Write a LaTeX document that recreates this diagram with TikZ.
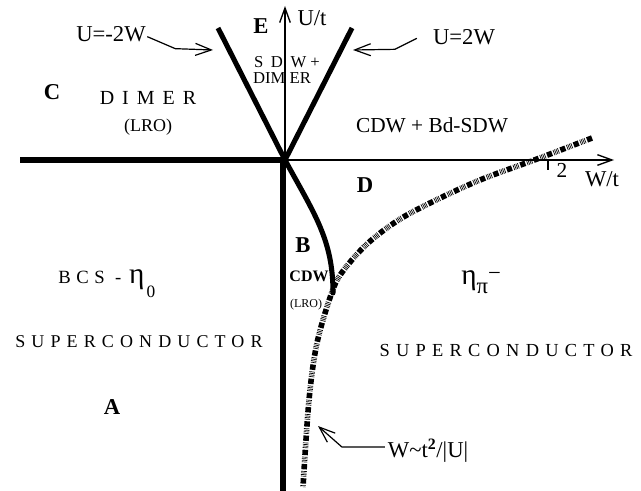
\documentclass[tikz,border=0pt]{standalone}
\usepackage{fontspec}
\setmainfont{Liberation Serif}
\usetikzlibrary{arrows.meta}
\newcommand{\spaced}[2]{{\addfontfeature{LetterSpace=#1}#2}}

\begin{document}
\begin{tikzpicture}[
      x=0.75pt, y=-0.75pt,
      lbl/.style={inner sep=0pt, font=\fontsize{16}{18}\selectfont},
      big/.style={lbl, font=\fontsize{17}{19}\selectfont},
      reg/.style={lbl, font=\fontsize{17}{19}\selectfont\bfseries},
      small/.style={lbl, font=\fontsize{12.5}{13}\selectfont},
      bound/.style={line width=3.8pt},
      axis/.style={line width=1pt, -{Straight Barb[length=11pt,width=8pt]}},
      ptr/.style={line width=0.9pt, -{Straight Barb[length=12pt,width=9pt]}},
      cross/.style={line width=4.2pt, dash pattern=on 4pt off 1.3pt on 0.5pt off 0.7pt
                    on 0.5pt off 0.7pt on 0.5pt off 0.7pt on 0.5pt off 1.3pt}
    ]
    \path[use as bounding box] (0,0) rectangle (641,491);
    \coordinate (O) at (285,160);

    % axes
    \draw[axis] (O) -- (285,6);
    \draw[axis] (O) -- (614,160);
    \draw[line width=0.8pt] (548,161) -- (548,170);
    \node[big] (uaxis) at (312,18) {U/t};
    \node[big] (waxis) at (602,179) {W/t};
    \node[lbl] (two) at (562,170) {2};

    % phase boundaries
    \draw[bound] (20,160) -- (O);
    \draw[bound, line width=4.5pt] (283,160) -- (283,491);
    \draw[bound] (O) -- (218,28);
    \draw[bound] (O) -- (352,28);
    \draw[bound, line cap=round] (O) .. controls (315,215) and (333,240) .. (333,293);
    \draw[cross] plot[smooth, tension=0.55] coordinates {(592,138) (537,159) (480,180)
      (430,203) (397,221) (367,244) (343,271) (332,292) (317,343) (309,400) (303,487)};

    % regions
    \node[reg] (regA) at (112,407) {A};
    \node[reg] (regB) at (303,245) {B};
    \node[reg] (regC) at (52,92) {C};
    \node[reg] (regD) at (365,185) {D};
    \node[reg] (regE) at (261,26) {E};

    \node[lbl, font=\fontsize{15}{17}\selectfont] (dimer) at (148,98) {\spaced{40}{DIMER}};
    \node[lbl, font=\fontsize{13.5}{15}\selectfont] (lroC) at (148,127) {(LRO)};
    \node[small] (sdw) at (287,62) {\spaced{20}{S D W} +};
    \node[small] (dim) at (282,78) {DIM ER};
    \node[lbl] (cdwbd) at (432,125) {CDW + Bd-SDW};
    \node[lbl, font=\fontsize{12}{13}\selectfont\bfseries] (cdwB) at (309,276) {CDW};
    \node[lbl, font=\fontsize{9}{10}\selectfont] (lroB) at (306,305) {(LRO)};

    \node[lbl, font=\fontsize{14}{16}\selectfont, anchor=base west] (bcs) at (58,283)
      {\spaced{30}{BCS -}\hspace{6pt}{\fontsize{22}{22}\selectfont η}\hspace{1.5pt}\raisebox{-1.7ex}{\fontsize{13}{13}\selectfont 0}};
    \node[lbl, font=\fontsize{13.5}{15}\selectfont] (scA) at (139,342) {\spaced{34}{SUPERCONDUCTOR}};
    \node[lbl, font=\fontsize{22}{22}\selectfont, anchor=base west] (etapi) at (461,284)
      {η\raisebox{-0.7ex}{\fontsize{17}{17}\selectfont π}\raisebox{0.25ex}{\fontsize{17}{17}\selectfont −}};
    \node[lbl, font=\fontsize{13.8}{15}\selectfont] (scB) at (506,350) {\spaced{34}{SUPERCONDUCTOR}};

    % boundary labels
    \node[big] (uminus) at (111,34) {U=-2W};
    \node[big] (uplus) at (464,37) {U=2W};
    \node[big] (wsc) at (428,451) {W\textasciitilde t\textsuperscript{\bfseries 2}/|U|};
    \coordinate (tipL) at (213,50);
    \coordinate (tipR) at (353,50);
    \coordinate (tipW) at (318,426);
    \draw[ptr] ([xshift=1pt,yshift=-2pt]uminus.east) -- ++(28,12) -- (tipL);
    \draw[ptr] ([xshift=-12pt,yshift=-1pt]uplus.west) -- ++(-22,11) -- (tipR);
    \draw[ptr] ([xshift=-2pt,yshift=3pt]wsc.west) -- ++(-43,0) -- (tipW);
  \end{tikzpicture}
\end{document}
